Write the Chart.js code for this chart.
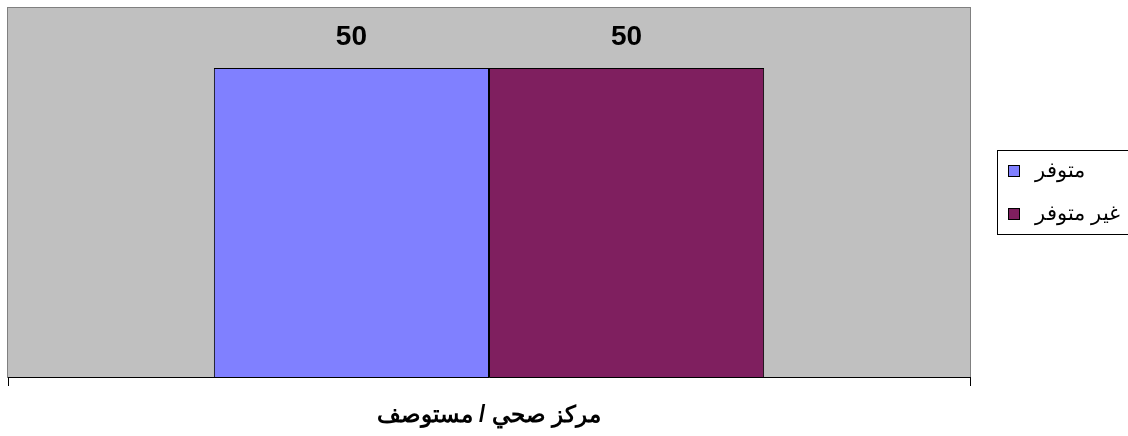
<!DOCTYPE html>
<html>
<head>
<meta charset="utf-8">
<script src="https://cdn.jsdelivr.net/npm/chart.js@4/dist/chart.umd.min.js"></script>
<style>
  html, body { margin: 0; padding: 0; background: #fff; }
  #wrap { width: 1128px; height: 436px; }
</style>
</head>
<body>
<div id="wrap"><canvas id="myChart" width="1128" height="436"></canvas></div>
<script>
// data
const categories = ['مركز صحي / مستوصف'];
const seriesNames = ['متوفر', 'غير متوفر'];
const availableValues = [50];
const notAvailableValues = [50];
const seriesColors = ['#8080FF', '#7F1F5F'];

// gray plot area with thin gray frame
const plotBackground = {
  id: 'plotBackground',
  beforeDraw(chart) {
    const { ctx, chartArea: a } = chart;
    ctx.save();
    ctx.fillStyle = '#C0C0C0';
    ctx.fillRect(a.left, a.top, a.right - a.left, a.bottom - a.top);
    ctx.strokeStyle = '#808080';
    ctx.lineWidth = 1;
    ctx.strokeRect(a.left - 0.5, a.top - 0.5, a.right - a.left + 1, a.bottom - a.top + 1);
    ctx.restore();
  }
};

// bold value above each bar
const valueLabels = {
  id: 'valueLabels',
  afterDatasetsDraw(chart) {
    const ctx = chart.ctx;
    ctx.save();
    ctx.font = 'bold 28px "Liberation Sans", Arial, sans-serif';
    ctx.fillStyle = '#000';
    ctx.textAlign = 'center';
    ctx.textBaseline = 'middle';
    chart.data.datasets.forEach((ds, i) => {
      chart.getDatasetMeta(i).data.forEach((bar, j) => {
        ctx.fillText(ds.data[j], bar.x, bar.y - 31);
      });
    });
    ctx.restore();
  }
};

// legend box on the right like the original
const boxLegend = {
  id: 'boxLegend',
  afterDraw(chart) {
    const ctx = chart.ctx;
    const x0 = 997, y0 = 150, w = 140, h = 84;
    ctx.save();
    ctx.fillStyle = '#fff';
    ctx.fillRect(x0, y0, w, h);
    ctx.strokeStyle = '#000';
    ctx.lineWidth = 1;
    ctx.strokeRect(x0 + 0.5, y0 + 0.5, w, h);
    ctx.font = '21px "Liberation Sans", Arial, sans-serif';
    ctx.textBaseline = 'middle';
    ctx.textAlign = 'left';
    chart.data.datasets.forEach((ds, i) => {
      const cy = y0 + 21 + i * 43;
      ctx.fillStyle = ds.backgroundColor;
      ctx.fillRect(1008, cy - 6, 12, 12);
      ctx.strokeStyle = '#000';
      ctx.strokeRect(1008.5, cy - 5.5, 11, 11);
      ctx.fillStyle = '#000';
      ctx.fillText(ds.label, 1035, cy);
    });
    ctx.restore();
  }
};

const chartArea = document.getElementById('myChart').getContext('2d');
const myChart = new Chart(chartArea, {
  type: 'bar',
  data: {
    labels: categories,
    datasets: [
      {
        label: seriesNames[0],
        data: availableValues,
        backgroundColor: seriesColors[0],
        borderColor: '#000',
        borderWidth: 1
      },
      {
        label: seriesNames[1],
        data: notAvailableValues,
        backgroundColor: seriesColors[1],
        borderColor: '#000',
        borderWidth: 1
      }
    ]
  },
  options: {
    responsive: false,
    animation: false,
    devicePixelRatio: 1,
    layout: { padding: { left: 8, top: 8, right: 158, bottom: 0 } },
    datasets: { bar: { categoryPercentage: 0.572, barPercentage: 1 } },
    plugins: {
      legend: { display: false },
      tooltip: { enabled: false }
    },
    scales: {
      x: {
        afterFit(scale) { scale.height = 59; },
        grid: {
          display: true,
          drawOnChartArea: false,
          drawTicks: true,
          tickLength: 9,
          color: '#000',
          offset: true
        },
        border: { display: true, color: '#000', width: 1 },
        ticks: {
          color: '#000',
          padding: 16,
          font: { family: '"Liberation Sans", Arial, sans-serif', size: 23, weight: 'bold' }
        }
      },
      y: {
        display: false,
        min: 0,
        max: 59.7
      }
    }
  },
  plugins: [plotBackground, valueLabels, boxLegend]
});
</script>
</body>
</html>
